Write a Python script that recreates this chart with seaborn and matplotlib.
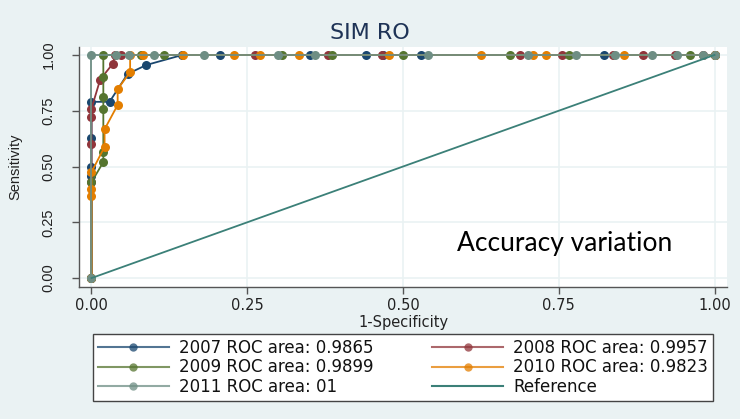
import numpy as np
import pandas as pd
import seaborn as sns
import matplotlib.pyplot as plt
from matplotlib.lines import Line2D

# ROC points (1-specificity, sensitivity)
x_2007 = [0, 0, 0, 0, 0, 0.029, 0.058, 0.088, 0.146, 0.207, 0.351, 0.44, 0.468, 0.529, 0.822, 1.0]
y_2007 = [0, 0.457, 0.5, 0.63, 0.79, 0.79, 0.915, 0.955, 1, 1, 1, 1, 1, 1, 1, 1]

x_2008 = [0, 0, 0, 0, 0, 0.014, 0.034, 0.038, 0.048, 0.263, 0.38, 0.466, 0.688, 0.755, 0.837, 0.885, 0.936, 0.982, 1.0]
y_2008 = [0, 0.43, 0.6, 0.72, 0.76, 0.89, 0.96, 1, 1, 1, 1, 1, 1, 1, 1, 1, 1, 1, 1]

x_2009 = [0, 0, 0.019, 0.019, 0.019, 0.019, 0.019, 0.019, 0.079, 0.116, 0.306, 0.386, 0.5, 0.671, 0.767, 0.96, 1.0]
y_2009 = [0, 0.43, 0.52, 0.565, 0.76, 0.81, 0.9, 1, 1, 1, 1, 1, 1, 1, 1, 1, 1]

x_2010 = [0, 0, 0, 0, 0.021, 0.021, 0.042, 0.042, 0.062, 0.062, 0.083, 0.147, 0.228, 0.27, 0.333, 0.478, 0.625, 0.709, 0.729, 0.854, 1.0]
y_2010 = [0, 0.37, 0.40, 0.475, 0.588, 0.667, 0.776, 0.847, 0.923, 1, 1, 1, 1, 1, 1, 1, 1, 1, 1, 1, 1]

x_2011 = [0, 0, 0.04, 0.061, 0.1, 0.18, 0.3, 0.359, 0.54, 0.7, 0.778, 0.84, 0.9, 0.939, 0.981, 1.0]
y_2011 = [0, 1, 1, 1, 1, 1, 1, 1, 1, 1, 1, 1, 1, 1, 1, 1]

ref_x = [0, 1]
ref_y = [0, 1]

years = ["2007", "2008", "2009", "2010", "2011"]
roc_area = ["0.9865", "0.9957", "0.9899", "0.9823", "01"]
colors = ["#1a476f", "#90353b", "#55752f", "#e37e00", "#6e8e84"]
ref_color = "#3b8078"

series = {"2007": (x_2007, y_2007), "2008": (x_2008, y_2008), "2009": (x_2009, y_2009),
          "2010": (x_2010, y_2010), "2011": (x_2011, y_2011)}

frames = []
for yr in years:
    xs, ys = series[yr]
    frames.append(pd.DataFrame({"fpr": xs, "tpr": ys, "year": yr}))
df = pd.concat(frames, ignore_index=True)

bg = "#eaf2f3"
plt.rcParams["font.family"] = ["DejaVu Sans"]
fig = plt.figure(figsize=(7.4, 4.19), dpi=100, facecolor=bg)
ax = fig.add_axes([0.1068, 0.315, 0.8756, 0.573])
ax.set_facecolor("white")

for yr, c in zip(years, colors):
    sub = df[df["year"] == yr]
    sns.lineplot(data=sub, x="fpr", y="tpr", sort=False, estimator=None, ax=ax,
                 color=c, linewidth=1.3, marker="o", markersize=6.5,
                 markeredgewidth=0, legend=False)
sns.lineplot(x=ref_x, y=ref_y, ax=ax, color=ref_color, linewidth=1.3, legend=False)

ax.set_xlim(-0.02, 1.02)
ax.set_ylim(-0.04, 1.036)
ticks = [0, 0.25, 0.5, 0.75, 1.0]
ax.set_xticks(ticks)
ax.set_yticks(ticks)
ax.set_xticklabels([f"{t:.2f}" for t in ticks], fontsize=10.5, color="#222222")
ax.set_yticklabels([f"{t:.2f}" for t in ticks], fontsize=10.5, color="#222222",
                   rotation=90, va="center", family=["Liberation Sans"])
ax.grid(True, color=bg, linewidth=1.2)
ax.set_axisbelow(True)
ax.tick_params(axis="x", direction="out", length=5, width=1, color="#555555", pad=3)
ax.tick_params(axis="y", direction="out", length=5, width=1, color="#555555", pad=12)
for side in ["top", "right"]:
    ax.spines[side].set_visible(False)
for side in ["left", "bottom"]:
    ax.spines[side].set_color("#555555")
    ax.spines[side].set_linewidth(1)

ax.set_xlabel("1-Specificity", fontsize=10.5, color="#222222", labelpad=1)
ax.set_ylabel("Sensitivity", fontsize=10.5, color="#222222", labelpad=14,
              family=["Liberation Sans"])
fig.text(0.5, 0.922, "SIM RO", ha="center", va="center", fontsize=16,
         color="#1e3356")

fig.text(457 / 740, 1 - 251 / 419, "Accuracy variation", ha="left", va="baseline",
         fontsize=19, color="black", family=["Lato", "DejaVu Sans"])

handles = {}
for yr, c, a in zip(years, colors, roc_area):
    handles[yr] = Line2D([], [], color=c, alpha=0.75, linewidth=1.5, marker="o",
                         markersize=6, markerfacecolor=c, markeredgewidth=0,
                         label=f"{yr} ROC area: {a}")
handles["ref"] = Line2D([], [], color=ref_color, linewidth=1.5, label="Reference")
order = ["2007", "2009", "2011", "2008", "2010", "ref"]
leg = fig.legend(handles=[handles[k] for k in order], ncol=2, loc="upper left",
                 bbox_to_anchor=(93 / 740, 1 - 401 / 419, 620 / 740, 67 / 419),
                 mode="expand", numpoints=1, handlelength=4.25, handletextpad=0.6,
                 frameon=True, fancybox=False, borderaxespad=0, labelspacing=0.08,
                 borderpad=0.3, framealpha=1,
                 prop={"family": "DejaVu Sans", "size": 12})
leg.get_frame().set_edgecolor("#444444")
leg.get_frame().set_facecolor("white")
leg.get_frame().set_linewidth(1)
for t in leg.get_texts():
    t.set_color("#111111")

fig.savefig("out.png", dpi=100, facecolor=bg)
